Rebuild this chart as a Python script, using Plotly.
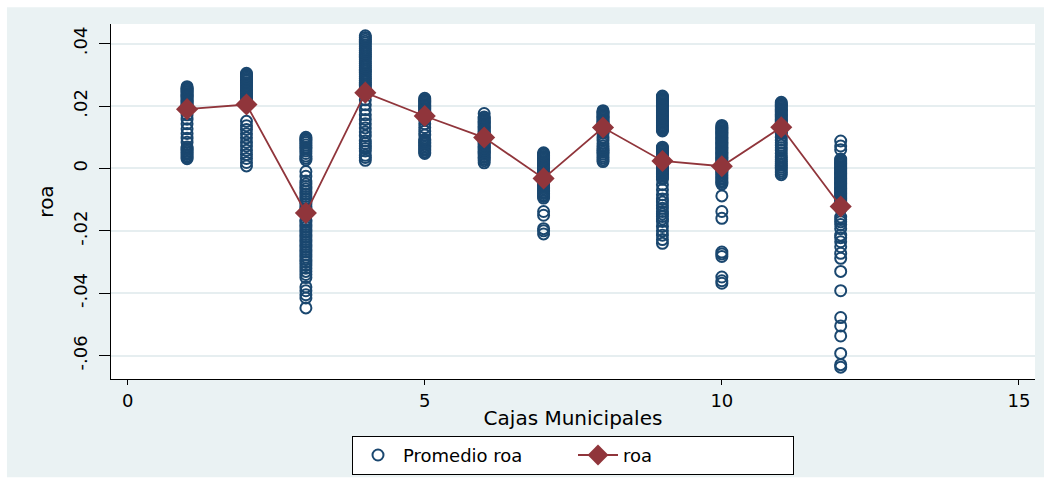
import plotly.graph_objects as go

# Cajas Municipales (x categories) and ROA observations per caja
cajas = [1, 2, 3, 4, 5, 6, 7, 8, 9, 10, 11, 12]

roa_caja01 = [0.0262, 0.0258, 0.0255, 0.0251, 0.0247, 0.0244, 0.0240, 0.0236, 0.0232, 0.0229,
              0.0225, 0.0221, 0.0217, 0.0213, 0.0209, 0.0205, 0.0200, 0.0196,
              0.0172, 0.0158, 0.0143, 0.0127, 0.0112, 0.0097, 0.0084,
              0.0069, 0.0064, 0.0060, 0.0055, 0.0050, 0.0045, 0.0040, 0.0035, 0.0031]
roa_caja02 = [0.0305, 0.0301, 0.0297, 0.0293, 0.0289, 0.0285, 0.0280, 0.0275, 0.0270, 0.0265,
              0.0260, 0.0255, 0.0250, 0.0245, 0.0240, 0.0235, 0.0230, 0.0225, 0.0220, 0.0215,
              0.0210, 0.0205,
              0.0151, 0.0137, 0.0125, 0.0111, 0.0098, 0.0084, 0.0072, 0.0058, 0.0045, 0.0032,
              0.0019, 0.0008]
roa_caja03 = [0.0100, 0.0096, 0.0092, 0.0087, 0.0082, 0.0075, 0.0068, 0.0062, 0.0056, 0.0048,
              0.0040, 0.0033, 0.0027,
              -0.0010, -0.0025, -0.0040, -0.0050, -0.0058, -0.0066, -0.0074, -0.0082, -0.0090,
              -0.0098, -0.0106, -0.0114, -0.0122, -0.0130, -0.0138, -0.0146,
              -0.0165, -0.0172, -0.0180, -0.0188, -0.0196, -0.0204, -0.0212, -0.0220, -0.0228,
              -0.0236, -0.0244, -0.0252, -0.0260, -0.0268, -0.0276, -0.0284, -0.0292, -0.0300,
              -0.0310, -0.0320, -0.0330, -0.0340, -0.0350,
              -0.0380, -0.0392, -0.0405, -0.0415, -0.0447]
roa_caja04 = [0.0425, 0.0420, 0.0414, 0.0408, 0.0402, 0.0396, 0.0390, 0.0384, 0.0378, 0.0372,
              0.0366, 0.0360, 0.0354, 0.0348, 0.0342, 0.0336, 0.0330, 0.0324, 0.0318, 0.0312,
              0.0306, 0.0300, 0.0294, 0.0288, 0.0282, 0.0276, 0.0270, 0.0264, 0.0258, 0.0252,
              0.0246,
              0.0220, 0.0204, 0.0188, 0.0172, 0.0157, 0.0143, 0.0130, 0.0117, 0.0104, 0.0088,
              0.0080, 0.0072, 0.0064, 0.0056, 0.0042, 0.0035, 0.0026]
roa_caja05 = [0.0225, 0.0221, 0.0217, 0.0213, 0.0209, 0.0205, 0.0201, 0.0197, 0.0193, 0.0189,
              0.0185, 0.0181, 0.0177, 0.0173, 0.0169,
              0.0155, 0.0143, 0.0131, 0.0119, 0.0107,
              0.0093, 0.0088, 0.0083, 0.0078, 0.0073, 0.0068, 0.0063, 0.0058, 0.0053, 0.0048]
roa_caja06 = [0.0176, 0.0165, 0.0161, 0.0157, 0.0153, 0.0149, 0.0145, 0.0141, 0.0137, 0.0133,
              0.0129, 0.0125, 0.0121, 0.0117, 0.0113, 0.0109, 0.0105, 0.0101, 0.0097, 0.0093,
              0.0089, 0.0085, 0.0081, 0.0077, 0.0073, 0.0069, 0.0065, 0.0061, 0.0057, 0.0053,
              0.0049, 0.0045, 0.0040, 0.0035, 0.0030, 0.0025, 0.0018]
roa_caja07 = [0.0050, 0.0046, 0.0042, 0.0038, 0.0034, 0.0030, 0.0026, 0.0022, 0.0018, 0.0014,
              0.0010, 0.0006, 0.0002, -0.0002, -0.0006, -0.0010, -0.0014, -0.0018, -0.0022,
              -0.0026, -0.0030, -0.0034, -0.0038, -0.0042, -0.0046, -0.0050, -0.0055, -0.0060,
              -0.0065, -0.0070, -0.0075, -0.0080, -0.0085, -0.0090, -0.0095,
              -0.0138, -0.0150, -0.0193, -0.0200, -0.0210]
roa_caja08 = [0.0185, 0.0181, 0.0177, 0.0173, 0.0169, 0.0165, 0.0161, 0.0157, 0.0153, 0.0149,
              0.0145, 0.0141, 0.0137, 0.0133, 0.0129, 0.0125, 0.0121, 0.0117, 0.0113,
              0.0100, 0.0090, 0.0080, 0.0072, 0.0064, 0.0058, 0.0052, 0.0046, 0.0040, 0.0034,
              0.0028, 0.0022]
roa_caja09 = [0.0232, 0.0228, 0.0224, 0.0220, 0.0216, 0.0212, 0.0208, 0.0204, 0.0200, 0.0196,
              0.0192, 0.0188, 0.0184, 0.0180, 0.0176, 0.0172, 0.0168, 0.0164, 0.0160, 0.0156,
              0.0152, 0.0148, 0.0144, 0.0140, 0.0136, 0.0132, 0.0128, 0.0124, 0.0120,
              0.0068, 0.0064, 0.0060, 0.0056, 0.0052, 0.0048, 0.0044, 0.0040, 0.0036, 0.0032,
              0.0028, 0.0024, 0.0020, 0.0016, 0.0012, 0.0008, 0.0004, 0.0000, -0.0004, -0.0008,
              -0.0012, -0.0016, -0.0020, -0.0025, -0.0030, -0.0035,
              -0.0052, -0.0068, -0.0084, -0.0098, -0.0108, -0.0118, -0.0128, -0.0138, -0.0146,
              -0.0154, -0.0162, -0.0170, -0.0186, -0.0200, -0.0214, -0.0228, -0.0240]
roa_caja10 = [0.0138, 0.0134, 0.0130, 0.0126, 0.0122, 0.0118, 0.0114, 0.0110, 0.0106, 0.0102,
              0.0098, 0.0094, 0.0090, 0.0086, 0.0082, 0.0078, 0.0074, 0.0070, 0.0066, 0.0062,
              0.0058, 0.0054, 0.0050, 0.0046, 0.0042, 0.0038, 0.0034, 0.0030, 0.0026, 0.0022,
              0.0018, 0.0014, 0.0010, 0.0006, 0.0002, -0.0002, -0.0006, -0.0010, -0.0015,
              -0.0020, -0.0025, -0.0030, -0.0035, -0.0040, -0.0045, -0.0050,
              -0.0088, -0.0138, -0.0160, -0.0268, -0.0274, -0.0282, -0.0348, -0.0360, -0.0368]
roa_caja11 = [0.0212, 0.0208, 0.0204, 0.0200, 0.0196, 0.0192, 0.0188, 0.0184, 0.0180, 0.0176,
              0.0172, 0.0168, 0.0164, 0.0160, 0.0156, 0.0152, 0.0148, 0.0144, 0.0140, 0.0136,
              0.0132, 0.0128, 0.0124, 0.0120, 0.0116, 0.0112,
              0.0100, 0.0090, 0.0082, 0.0074, 0.0066, 0.0058, 0.0048,
              0.0040, 0.0034, 0.0028, 0.0022, 0.0016, 0.0010, 0.0004, -0.0002, -0.0008, -0.0014,
              -0.0020]
roa_caja12 = [0.0088, 0.0072, 0.0060,
              0.0030, 0.0026, 0.0022, 0.0018, 0.0014, 0.0010, 0.0006, 0.0002, -0.0002, -0.0006,
              -0.0010, -0.0014, -0.0018, -0.0022, -0.0026, -0.0030, -0.0034, -0.0038, -0.0042,
              -0.0046, -0.0050, -0.0054, -0.0058, -0.0062, -0.0066, -0.0070, -0.0074, -0.0078,
              -0.0082, -0.0086, -0.0090, -0.0094, -0.0098, -0.0102, -0.0106, -0.0110, -0.0114,
              -0.0118, -0.0122, -0.0126, -0.0130,
              -0.0156, -0.0164, -0.0171, -0.0180, -0.0193, -0.0214, -0.0222, -0.0235, -0.0251,
              -0.0272, -0.0288, -0.0330, -0.0392, -0.0478, -0.0505, -0.0537, -0.0593, -0.0629,
              -0.0637]

# Average ROA per caja (line with diamonds)
roa_mean = [0.0190, 0.0205, -0.0143, 0.0243, 0.0168, 0.0099, -0.0032, 0.0131, 0.0024, 0.0007,
            0.0132, -0.0122]

x_ticks = [0, 5, 10, 15]
y_tickvals = [-0.06, -0.04, -0.02, 0, 0.02, 0.04]
y_ticktext = ["-.06", "-.04", "-.02", "0", ".02", ".04"]

NAVY = "#1a476f"
MAROON = "#90353b"
BG = "#eaf2f3"
FONT = "DejaVu Sans"

obs_lists = [roa_caja01, roa_caja02, roa_caja03, roa_caja04, roa_caja05, roa_caja06,
             roa_caja07, roa_caja08, roa_caja09, roa_caja10, roa_caja11, roa_caja12]
obs_x, obs_y = [], []
for caja, values in zip(cajas, obs_lists):
    obs_x.extend([caja] * len(values))
    obs_y.extend(values)

fig = go.Figure()
fig.add_trace(go.Scatter(
    x=obs_x, y=obs_y, mode="markers", name="Promedio roa",
    marker=dict(symbol="circle-open", size=11, color=NAVY, line=dict(width=2, color=NAVY)),
))
fig.add_trace(go.Scatter(
    x=cajas, y=roa_mean, mode="lines+markers", name="roa",
    line=dict(color=MAROON, width=1.8),
    marker=dict(symbol="diamond", size=17, color=MAROON),
))

# Light graph region with a thin white edge, and white plot region
fig.add_shape(type="rect", xref="paper", yref="paper", layer="below",
              x0=-0.1126, x1=1.0097, y0=-0.2765, y1=1.0475,
              fillcolor=BG, line=dict(width=0))
fig.add_shape(type="rect", xref="paper", yref="paper", layer="below",
              x0=0, x1=1, y0=0, y1=1, fillcolor="white", line=dict(width=0))

fig.update_layout(
    width=1052, height=487,
    margin=dict(l=111, r=17, t=24, b=105),
    paper_bgcolor="white", plot_bgcolor="white",
    font=dict(family=FONT, color="black", size=17),
    showlegend=True,
    legend=dict(
        orientation="h", x=0.5, xanchor="center", y=-0.16, yanchor="top",
        bgcolor="white", bordercolor="black", borderwidth=1,
        font=dict(family=FONT, size=18, color="black"),
        entrywidth=165, itemwidth=40,
    ),
    xaxis=dict(
        range=[-0.28, 15.27], tickvals=x_ticks, ticks="outside", ticklen=5,
        tickcolor="black", tickwidth=1.3, showline=True, linecolor="black", linewidth=1.3,
        showgrid=False, zeroline=False, tickfont=dict(size=18),
        title=dict(text="Cajas Municipales", font=dict(size=20), standoff=1),
    ),
    yaxis=dict(
        range=[-0.0675, 0.0463], tickvals=y_tickvals, ticktext=y_ticktext,
        ticks="outside", ticklen=11, tickcolor="black", tickwidth=1.3, tickangle=-90,
        ticklabelstandoff=5,
        showline=True, linecolor="black", linewidth=1.3,
        showgrid=True, gridcolor="#e6eef0", gridwidth=1.5, zeroline=False,
        tickfont=dict(size=18),
        title=dict(text="roa", font=dict(size=20), standoff=10),
    ),
)

fig.write_html("out.html")
